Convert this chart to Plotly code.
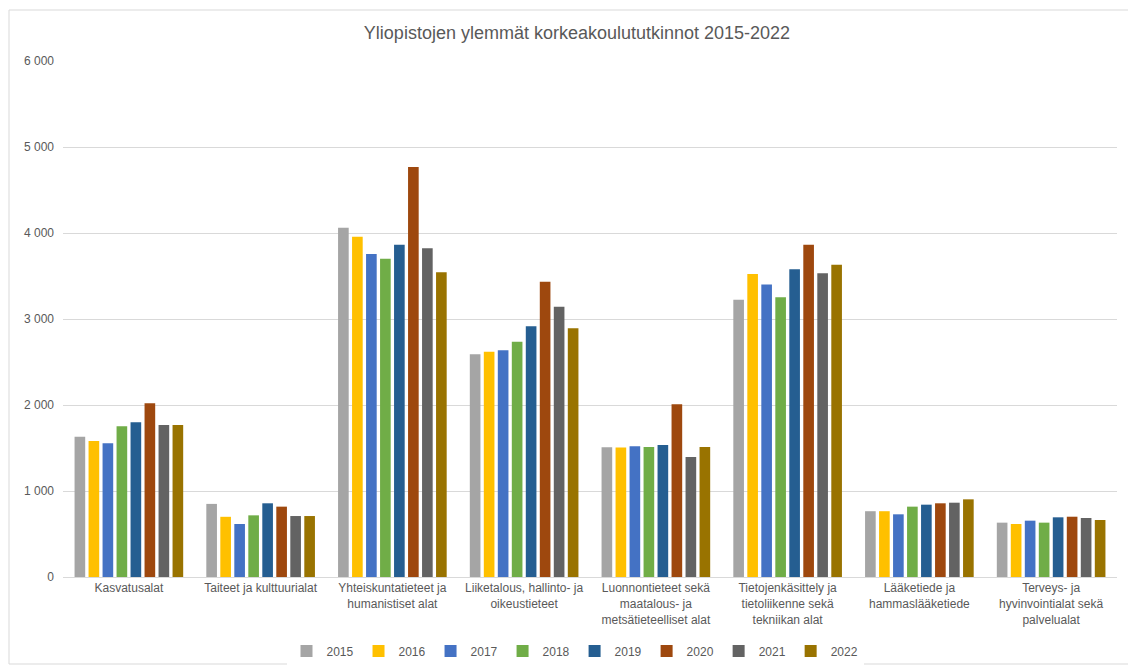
import plotly.graph_objects as go

categories = [
    "Kasvatusalat",
    "Taiteet ja kulttuurialat",
    "Yhteiskuntatieteet ja<br>humanistiset alat",
    "Liiketalous, hallinto- ja<br>oikeustieteet",
    "Luonnontieteet sekä<br>maatalous- ja<br>metsätieteelliset alat",
    "Tietojenkäsittely ja<br>tietoliikenne sekä<br>tekniikan alat",
    "Lääketiede ja<br>hammaslääketiede",
    "Terveys- ja<br>hyvinvointialat sekä<br>palvelualat",
]
years = ["2015", "2016", "2017", "2018", "2019", "2020", "2021", "2022"]

v2015 = [1630, 850, 4060, 2590, 1510, 3225, 765, 632]
v2016 = [1580, 700, 3957, 2620, 1505, 3523, 765, 616]
v2017 = [1555, 616, 3756, 2636, 1520, 3400, 729, 655]
v2018 = [1752, 717, 3701, 2736, 1512, 3252, 818, 632]
v2019 = [1800, 857, 3864, 2915, 1535, 3578, 841, 694]
v2020 = [2020, 818, 4767, 3434, 2008, 3864, 857, 701]
v2021 = [1767, 709, 3822, 3143, 1395, 3531, 864, 686]
v2022 = [1767, 709, 3543, 2892, 1512, 3632, 903, 663]
series = [v2015, v2016, v2017, v2018, v2019, v2020, v2021, v2022]

colors = ["#A5A5A5", "#FFC000", "#4472C4", "#70AD47", "#255E91", "#9E480E", "#636363", "#997300"]

y_tickvals = [0, 1000, 2000, 3000, 4000, 5000, 6000]
y_ticktext = ["0", "1 000", "2 000", "3 000", "4 000", "5 000", "6 000"]

# page body has an 8px margin; figure is sized so plot sits where the reference has it
OFF = 8
W, H = 1136 - OFF, 666 - OFF
L, R, T, B = 63 - OFF, 19, 61 - OFF, 666 - 577
PW, PH = W - L - R, H - T - B

fig = go.Figure()
for y, vals, c in zip(years, series, colors):
    fig.add_trace(go.Bar(name=y, x=categories, y=vals, marker=dict(color=c, line=dict(width=0))))

fig.update_layout(
    width=W, height=H,
    barmode="group", bargap=0.15, bargroupgap=0.24,
    paper_bgcolor="white", plot_bgcolor="white",
    margin=dict(l=L, r=R, t=T, b=B, autoexpand=False),
    font=dict(family="Liberation Sans, Arial, sans-serif", color="#595959", size=12),
    title=dict(text="Yliopistojen ylemmät korkeakoulututkinnot 2015-2022",
               x=(577 - OFF) / W, xanchor="center", y=1 - (33 - OFF) / H, yanchor="middle",
               font=dict(size=18, color="#595959")),
    showlegend=True,
    legend=dict(orientation="h", x=(575 - 63) / PW, xanchor="center",
                y=(577 - 651) / PH, yanchor="middle",
                font=dict(size=12, color="#595959"), itemwidth=30,
                traceorder="normal"),
    shapes=[dict(type="rect", xref="paper", yref="paper",
                 x0=(9 - 63) / PW, x1=(1133 - 63) / PW,
                 y0=(577 - 664) / PH, y1=(577 - 10) / PH,
                 line=dict(color="#D9D9D9", width=1), fillcolor="rgba(0,0,0,0)", layer="below")],
)
fig.update_xaxes(showgrid=False, showline=True, linecolor="#D9D9D9", linewidth=1,
                 ticks="", tickfont=dict(size=12, color="#595959"), tickangle=0)
fig.update_yaxes(range=[0, 6000], tickvals=y_tickvals, ticktext=y_ticktext,
                 showgrid=True, gridcolor="#D9D9D9", gridwidth=1, zeroline=False,
                 showline=False, ticks="", ticklabelstandoff=8,
                 tickfont=dict(size=12, color="#595959"))

fig.write_html("out.html")
